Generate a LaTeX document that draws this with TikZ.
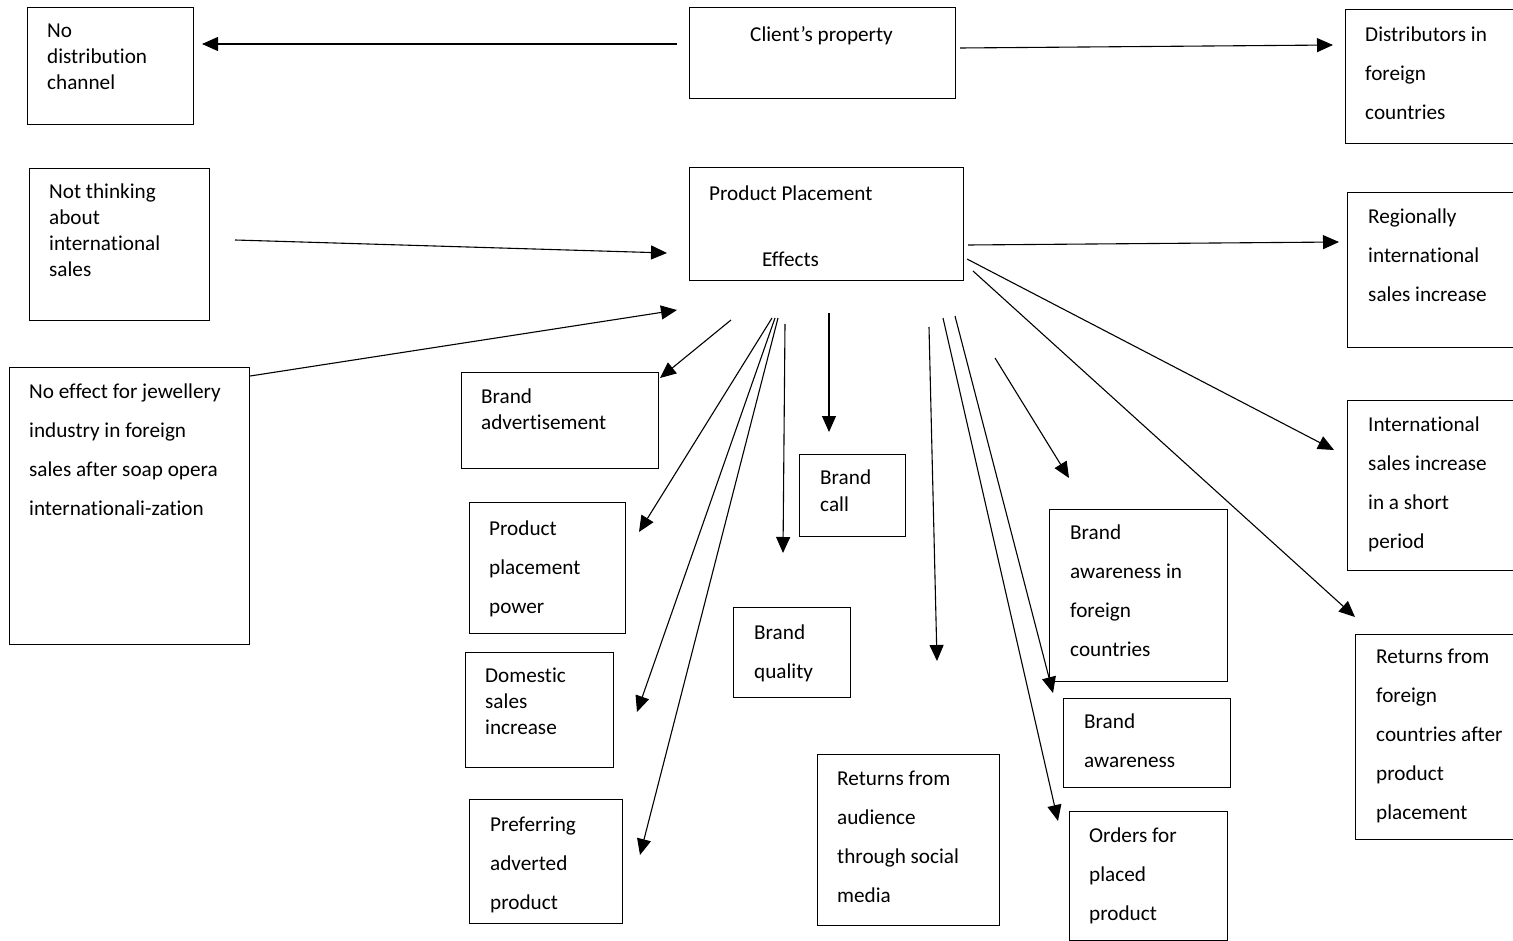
\documentclass[tikz,border=0pt]{standalone}
\usepackage{fontspec}
\setmainfont{Carlito}[Ligatures={NoCommon}]
\usetikzlibrary{arrows.meta}
\newcommand{\fsA}{\fontsize{21.2}{26}\selectfont}
\newcommand{\fsB}{\fontsize{21.2}{39}\selectfont}
\newcommand{\fsC}{\fontsize{21.2}{27}\selectfont}
\tikzset{
  box/.style={draw, line width=1.2pt, inner sep=0pt, anchor=north west},
  txt/.style={anchor=north west, yshift=14pt, inner sep=0pt, align=left,
    execute at begin node={\rule{0pt}{17pt}}},
  txtA/.style={txt, font=\fsA},
  txtB/.style={txt, font=\fsB},
  txtC/.style={txt, font=\fsC},
  arr/.style={line width=1.1pt, -{Triangle[length=16pt,width=14pt]}}
}
\begin{document}
\begin{tikzpicture}[x=1pt,y=-1pt]
\path[use as bounding box, fill=white] (0,0) rectangle (1513,941);

% boxes
\node[box, minimum width=166pt, minimum height=117pt] (nodist) at (27,7) {};
\node[box, minimum width=266pt, minimum height=91pt] (client) at (689,7) {};
\node[box, minimum width=168pt, minimum height=134pt] (distr) at (1345,9) {};
\node[box, minimum width=180pt, minimum height=152pt] (notthink) at (29,168) {};
\node[box, minimum width=274pt, minimum height=113pt] (pp) at (689,167) {};
\node[box, minimum width=166pt, minimum height=155pt] (region) at (1347,192) {};
\node[box, minimum width=240pt, minimum height=277pt] (noeffect) at (9,367) {};
\node[box, minimum width=197pt, minimum height=96pt] (brandadv) at (461,372) {};
\node[box, minimum width=156pt, minimum height=131pt] (ppp) at (469,502) {};
\node[box, minimum width=148pt, minimum height=115pt] (domestic) at (465,652) {};
\node[box, minimum width=153pt, minimum height=124pt] (prefer) at (469,799) {};
\node[box, minimum width=106pt, minimum height=82pt] (brandcall) at (799,454) {};
\node[box, minimum width=117pt, minimum height=90pt] (brandqual) at (733,607) {};
\node[box, minimum width=182pt, minimum height=171pt] (retaud) at (817,754) {};
\node[box, minimum width=178pt, minimum height=172pt] (bafor) at (1049,509) {};
\node[box, minimum width=167pt, minimum height=89pt] (baware) at (1063,698) {};
\node[box, minimum width=158pt, minimum height=129pt] (orders) at (1069,811) {};
\node[box, minimum width=166pt, minimum height=170pt] (intl) at (1347,400) {};
\node[box, minimum width=158pt, minimum height=205pt] (retfor) at (1355,634) {};

% texts (positions are first-line baselines)
\node[txtA] (t-nodist) at (47,38) {No\\distribution\\channel};
\node[txtA] (t-client) at (750,38) {Client’s property};
\node[txtB] (t-distr) at (1365,41) {Distributors in\\foreign\\countries};
\node[txtA] (t-notthink) at (49,198) {Not thinking\\about\\international\\sales};
\node[txtA] (t-pp1) at (709,197) {Product Placement};
\node[txtA] (t-pp2) at (762,263) {Effects};
\node[txtB] (t-region) at (1368,223) {Regionally\\international\\sales increase};
\node[txtB] (t-noeffect) at (29,398) {No effect for jewellery\\industry in foreign\\sales after soap opera\\internationali-zation};
\node[txtA] (t-brandadv) at (481,403) {Brand\\advertisement};
\node[txtB] (t-ppp) at (489,535) {Product\\placement\\power};
\node[txtA] (t-domestic) at (485,682) {Domestic\\sales\\increase};
\node[txtB] (t-prefer) at (490,831) {Preferring\\adverted\\product};
\node[txtC] (t-brandcall) at (820,484) {Brand\\call};
\node[txtB] (t-brandqual) at (754,639) {Brand\\quality};
\node[txtB] (t-retaud) at (837,785) {Returns from\\audience\\through social\\media};
\node[txtB] (t-bafor) at (1070,539) {Brand\\awareness in\\foreign\\countries};
\node[txtB] (t-baware) at (1084,728) {Brand\\awareness};
\node[txtB] (t-orders) at (1089,842) {Orders for\\placed\\product};
\node[txtB] (t-intl) at (1368,431) {International\\sales increase\\in a short\\period};
\node[txtB] (t-retfor) at (1376,663) {Returns from\\foreign\\countries after\\product\\placement};

% connector end points
\coordinate (a1s) at (677,44);   \coordinate (a1e) at (202,44);
\coordinate (a2s) at (960,48);   \coordinate (a2e) at (1333,45);
\coordinate (a3s) at (235,240);  \coordinate (a3e) at (667,253);
\coordinate (a4e) at (677,310);
\coordinate (a5s) at (968,245);  \coordinate (a5e) at (1339,242);
\coordinate (a6s) at (967,259);  \coordinate (a6e) at (1334,450);
\coordinate (a7s) at (973,271);  \coordinate (a7e) at (1355,617);
\coordinate (a8s) at (731,320);  \coordinate (a8e) at (660,378);
\coordinate (a9s) at (772,318);  \coordinate (a9e) at (639,532);
\coordinate (a10s) at (775,318); \coordinate (a10e) at (637,712);
\coordinate (a11s) at (778,318); \coordinate (a11e) at (640,855);
\coordinate (a12s) at (785,324); \coordinate (a12e) at (783,553);
\coordinate (a13s) at (829,313); \coordinate (a13e) at (829,432);
\coordinate (a14s) at (929,327); \coordinate (a14e) at (937,661);
\coordinate (a15s) at (955,316); \coordinate (a15e) at (1053,693);
\coordinate (a16s) at (943,318); \coordinate (a16e) at (1058,821);
\coordinate (a17s) at (995,358); \coordinate (a17e) at (1069,478);

% connectors
\draw[arr] (a1s) -- (a1e);
\draw[arr] (a2s) -- (a2e);
\draw[arr] (a3s) -- (a3e);
\draw[arr] (noeffect.north east) ++(0,9) -- (a4e);
\draw[arr] (a5s) -- (a5e);
\draw[arr] (a6s) -- (a6e);
\draw[arr] (a7s) -- (a7e);
\draw[arr] (a8s) -- (a8e);
\draw[arr] (a9s) -- (a9e);
\draw[arr] (a10s) -- (a10e);
\draw[arr] (a11s) -- (a11e);
\draw[arr] (a12s) -- (a12e);
\draw[arr] (a13s) -- (a13e);
\draw[arr] (a14s) -- (a14e);
\draw[arr] (a15s) -- (a15e);
\draw[arr] (a16s) -- (a16e);
\draw[arr] (a17s) -- (a17e);
\end{tikzpicture}
\end{document}
